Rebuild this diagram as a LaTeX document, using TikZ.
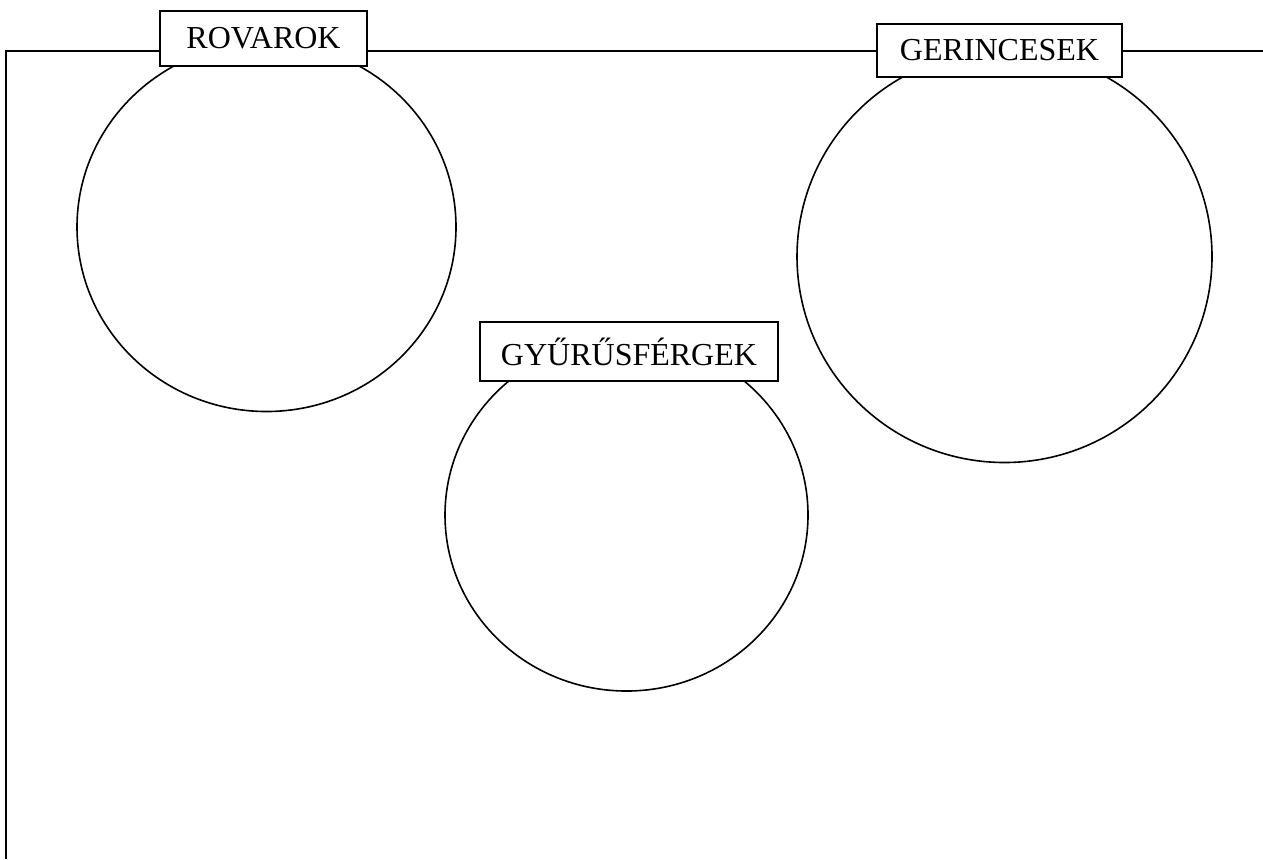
\documentclass[tikz,border=0pt]{standalone}
\usepackage{fontspec}
\setmainfont{Liberation Serif}
\usepackage{tikz}

\tikzset{label box/.style={draw,fill=white,line width=0.9pt,inner sep=0pt,font=\fontsize{16}{19}\selectfont}}

\begin{document}
\begin{tikzpicture}[x=0.5pt,y=-0.5pt]
\useasboundingbox (0,0) rectangle (1263,859);

\draw [line width=1pt](6,859)--(6,51)--(1263,51);

\draw [line width=0.8pt](266.5,227) ellipse (189.5 and 184.5);
\draw [line width=0.8pt](1004.5,256.5) ellipse (207.5 and 206);
\draw [line width=0.8pt](626.5,515) ellipse (181.5 and 176);

\node [label box,minimum width=103.5pt,minimum height=27.5pt](rovarok) at (263.5,38.5){ROVAROK};
\node [label box,minimum width=122.5pt,minimum height=26.5pt](gerincesek) at (999.5,50.5){GERINCESEK};
\node [label box,minimum width=149pt,minimum height=29.5pt](gyurusfergek) at (629,351.5){GYŰRŰSFÉRGEK};
\end{tikzpicture}
\end{document}
